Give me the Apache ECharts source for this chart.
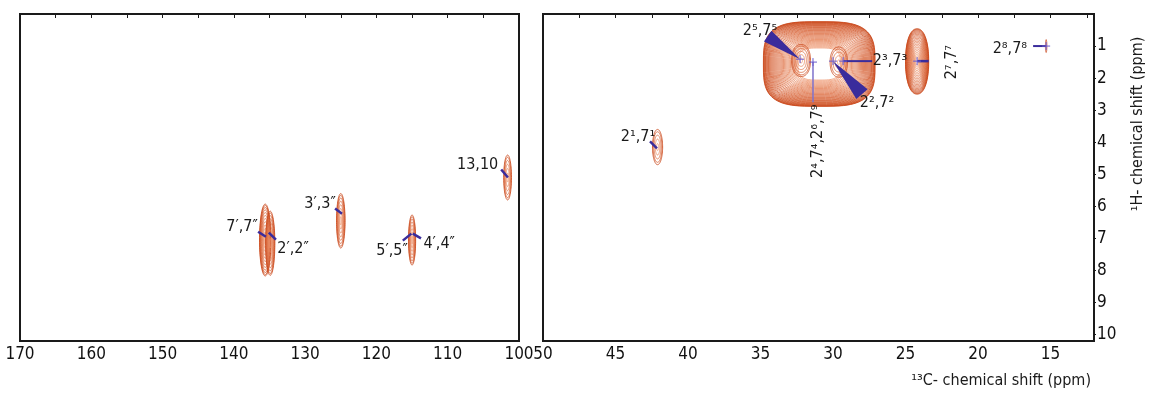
<!DOCTYPE html>
<html>
<head>
<meta charset="utf-8">
<script src="https://cdn.jsdelivr.net/npm/echarts@6/dist/echarts.min.js"></script>
<style>
  html, body { margin: 0; background: #fff; }
  #chart { width: 1149px; height: 394px; }
</style>
</head>
<body>
<div id="chart"></div>
<script>
// HSQC spectrum, aromatic region (left) and aliphatic region (right)
const FONT = '"DejaVu Sans Condensed", "DejaVu Sans", sans-serif';

// axis ticks (ppm)
const cLeftLabels = [170, 160, 150, 140, 130, 120, 110, 100];
const cLeftTicks = [170, 165, 160, 155, 150, 145, 140, 135, 130, 125, 120, 115, 110, 105, 100];
const cRightLabels = [50, 45, 40, 35, 30, 25, 20, 15];
const cRightTicks = [50, 47.5, 45, 42.5, 40, 37.5, 35, 32.5, 30, 27.5, 25, 22.5, 20, 17.5, 15, 12.5];
const hLabels = [1, 2, 3, 4, 5, 6, 7, 8, 9, 10];

// contour peaks: [13C, 1H, half width C, half width H, levels, shape exponent, innermost scale]
const peaksLeft = [
  [135.6, 7.05, 0.8, 1.12, 12, 2, 0.12],
  [134.9, 7.15, 0.65, 1.0, 9, 2, 0.15],
  [125.0, 6.45, 0.6, 0.85, 8, 2, 0.15],
  [115.0, 7.05, 0.5, 0.78, 8, 2, 0.15],
  [101.6, 5.1, 0.55, 0.7, 6, 2, 0.2]
];
const peaksRight = [
  [30.95, 1.56, 3.85, 1.32, 36, 3.4, 0.38],
  [32.2, 1.45, 0.65, 0.5, 6, 2.2, 0.15],
  [29.6, 1.5, 0.6, 0.47, 5, 2.2, 0.15],
  [24.2, 1.48, 0.8, 1.02, 22, 2.2, 0.12],
  [42.1, 4.15, 0.35, 0.55, 5, 2, 0.2],
  [15.3, 1.0, 0.05, 0.2, 2, 2, 0.5]
];

// assignment connectors: [label side C, label side H, peak C, peak H, width px, wedge 1 / line 0]
const linksLeft = [
  [102.5, 4.85, 101.55, 5.1, 2.5, 0],
  [125.8, 6.07, 124.83, 6.23, 2.5, 0],
  [136.6, 6.79, 135.5, 6.95, 2.5, 0],
  [134.1, 7.04, 135.1, 6.82, 2.5, 0],
  [116.3, 7.07, 115.1, 6.85, 2.5, 0],
  [113.75, 7.0, 114.9, 6.85, 2.5, 0]
];
const linksRight = [
  [34.5, 0.69, 32.27, 1.41, 13, 1],
  [28.0, 2.5, 30.0, 1.47, 15, 1],
  [27.3, 1.47, 29.3, 1.47, 2, 0],
  [31.38, 2.75, 31.38, 1.5, 1.5, 0],
  [23.4, 1.47, 24.2, 1.47, 2.5, 0],
  [42.62, 3.97, 42.14, 4.19, 2.5, 0],
  [16.2, 1.0, 15.3, 1.0, 2, 0]
];
// peak pick crosses [C, H]
const crossesRight = [[32.27, 1.41], [31.38, 1.5], [30.0, 1.47], [29.3, 1.47], [24.2, 1.47], [15.3, 1.0]];

// labels: [C, H, rotated]
const namesLeft = ['13,10', '3′,3″', '7′,7″', '2′,2″', '5′,5″', '4′,4″'];
const labelsLeft = [
  [105.8, 4.69, 0], [127.9, 5.91, 0], [138.85, 6.63, 0],
  [131.7, 7.32, 0], [117.8, 7.38, 0], [111.2, 7.17, 0]
];
const namesRight = ['2⁵,7⁵', '2²,7²', '2³,7³', '2⁷,7⁷', '2⁴,7⁴,2⁶,7⁹', '2¹,7¹', '2⁸,7⁸'];
const labelsRight = [
  [35.03, 0.53, 0], [26.96, 2.78, 0], [26.07, 1.47, 0], [21.8, 1.5, 1],
  [31.03, 3.97, 1], [43.45, 3.82, 0], [17.8, 1.1, 0]
];

const chart = echarts.init(document.getElementById('chart'));

function mix(t) {
  const a = [200, 66, 20], b = [238, 150, 110];
  const c = a.map((v, i) => Math.round(v + (b[i] - v) * t));
  return `rgb(${c[0]},${c[1]},${c[2]})`;
}

function contourItem(params, api) {
  const cx = api.value(0), cy = api.value(1), a = api.value(2), b = api.value(3);
  const n = api.value(4), p = api.value(5), sMin = api.value(6);
  const children = [];
  for (let k = 0; k < n; k++) {
    const f = n === 1 ? 0 : k / (n - 1);
    const s = 1 - (1 - sMin) * Math.pow(f, 1.3);
    const pts = [];
    for (let i = 0; i <= 90; i++) {
      const t = i / 90 * Math.PI * 2;
      const c = Math.cos(t), sn = Math.sin(t);
      const ex = Math.sign(c) * Math.pow(Math.abs(c), 2 / p);
      const ey = Math.sign(sn) * Math.pow(Math.abs(sn), 2 / p);
      pts.push(api.coord([cx + a * s * ex, cy + b * s * ey]));
    }
    children.push({
      type: 'polyline', shape: { points: pts },
      style: { stroke: mix(f), lineWidth: 0.8, fill: null }
    });
  }
  return { type: 'group', children };
}

function linkItem(params, api) {
  const p0 = api.coord([api.value(0), api.value(1)]);
  const p1 = api.coord([api.value(2), api.value(3)]);
  const w = api.value(4);
  if (api.value(5) === 1) {
    const dx = p1[0] - p0[0], dy = p1[1] - p0[1];
    const len = Math.sqrt(dx * dx + dy * dy);
    const nx = -dy / len * w / 2, ny = dx / len * w / 2;
    return {
      type: 'polygon',
      shape: { points: [[p0[0] + nx, p0[1] + ny], [p0[0] - nx, p0[1] - ny], p1] },
      style: { fill: '#3a2c9c' }
    };
  }
  return {
    type: 'line',
    shape: { x1: p0[0], y1: p0[1], x2: p1[0], y2: p1[1] },
    style: { stroke: w < 2 ? '#7d72cc' : '#3a2c9c', lineWidth: w }
  };
}

function crossItem(params, api) {
  const p = api.coord([api.value(0), api.value(1)]);
  return {
    type: 'group',
    children: [
      { type: 'line', shape: { x1: p[0] - 4, y1: p[1], x2: p[0] + 4, y2: p[1] }, style: { stroke: '#6a5ccc', lineWidth: 1 } },
      { type: 'line', shape: { x1: p[0], y1: p[1] - 4, x2: p[0], y2: p[1] + 4 }, style: { stroke: '#6a5ccc', lineWidth: 1 } }
    ]
  };
}

function labelRenderer(names) {
  return (params, api) => {
    const p = api.coord([api.value(0), api.value(1)]);
    return {
      type: 'text', x: p[0], y: p[1],
      rotation: api.value(2) ? Math.PI / 2 : 0,
      style: {
        text: names[params.dataIndex], fill: '#1a1a1a', font: '16px ' + FONT,
        align: 'center', verticalAlign: 'middle'
      }
    };
  };
}

const labelFont = { color: '#111', fontSize: 17, fontFamily: FONT };

const option = {
  animation: false,
  backgroundColor: '#fff',
  grid: [
    { left: 20, top: 14, width: 499, height: 327, show: true, borderColor: '#1a1a1a', borderWidth: 2 },
    { left: 543, top: 14, width: 551, height: 327, show: true, borderColor: '#1a1a1a', borderWidth: 2 }
  ],
  xAxis: [
    {
      gridIndex: 0, type: 'value', min: 100, max: 170, inverse: true,
      axisLine: { show: false }, splitLine: { show: false },
      axisTick: { show: true, length: 4, customValues: cLeftTicks, lineStyle: { color: '#1a1a1a', width: 1 } },
      axisLabel: { ...labelFont, margin: 5, customValues: cLeftLabels }
    },
    {
      gridIndex: 1, type: 'value', min: 12, max: 50, inverse: true,
      axisLine: { show: false }, splitLine: { show: false },
      axisTick: { show: true, length: 4, customValues: cRightTicks, lineStyle: { color: '#1a1a1a', width: 1 } },
      axisLabel: { ...labelFont, margin: 5, customValues: cRightLabels }
    }
  ],
  yAxis: [
    {
      gridIndex: 0, type: 'value', min: 0, max: 10.2, inverse: true,
      axisLine: { show: false }, axisTick: { show: false }, axisLabel: { show: false }, splitLine: { show: false }
    },
    {
      gridIndex: 1, type: 'value', min: 0, max: 10.2, inverse: true, position: 'right',
      axisLine: { show: false }, splitLine: { show: false },
      axisTick: { show: true, length: 2, customValues: hLabels, lineStyle: { color: '#1a1a1a', width: 1 } },
      axisLabel: { ...labelFont, margin: 3, customValues: hLabels }
    }
  ],
  graphic: [
    {
      type: 'text', x: 1091, y: 381,
      style: { text: '¹³C- chemical shift (ppm)', font: '16px ' + FONT, fill: '#1a1a1a', align: 'right', verticalAlign: 'middle' }
    },
    {
      type: 'text', x: 1138, y: 124, rotation: Math.PI / 2,
      style: { text: '¹H- chemical shift (ppm)', font: '16px ' + FONT, fill: '#1a1a1a', align: 'center', verticalAlign: 'middle' }
    }
  ],
  series: [
    { type: 'custom', xAxisIndex: 0, yAxisIndex: 0, renderItem: contourItem, data: peaksLeft, silent: true },
    { type: 'custom', xAxisIndex: 1, yAxisIndex: 1, renderItem: contourItem, data: peaksRight, silent: true },
    { type: 'custom', xAxisIndex: 0, yAxisIndex: 0, renderItem: linkItem, data: linksLeft, silent: true },
    { type: 'custom', xAxisIndex: 1, yAxisIndex: 1, renderItem: linkItem, data: linksRight, silent: true },
    { type: 'custom', xAxisIndex: 1, yAxisIndex: 1, renderItem: crossItem, data: crossesRight, silent: true },
    { type: 'custom', xAxisIndex: 0, yAxisIndex: 0, renderItem: labelRenderer(namesLeft), data: labelsLeft, silent: true },
    { type: 'custom', xAxisIndex: 1, yAxisIndex: 1, renderItem: labelRenderer(namesRight), data: labelsRight, silent: true }
  ]
};

chart.setOption(option);
</script>
</body>
</html>
